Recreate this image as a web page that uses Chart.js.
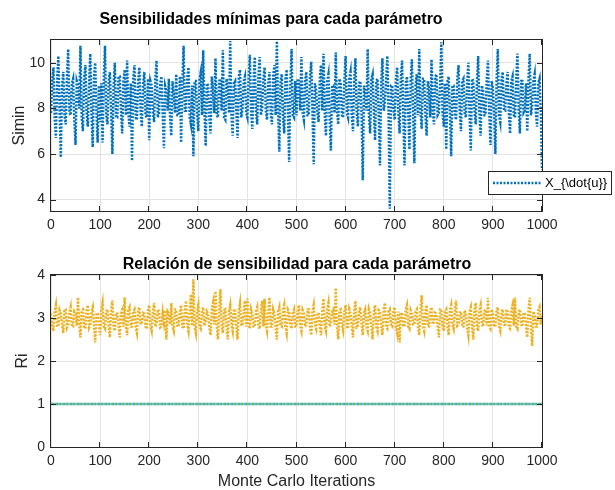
<!DOCTYPE html>
<html>
<head>
<meta charset="utf-8">
<script src="https://cdn.jsdelivr.net/npm/chart.js@4.4.1/dist/chart.umd.min.js"></script>
<style>
  html, body { margin: 0; padding: 0; background: #fff; }
  #wrap { position: relative; width: 615px; height: 490px; }
  .panel { position: absolute; left: 0; width: 615px; height: 245px; }
</style>
</head>
<body>
<div id="wrap">
  <div class="panel" style="top:0"><canvas id="topChart" width="615" height="245"></canvas></div>
  <div class="panel" style="top:245px"><canvas id="bottomChart" width="615" height="245"></canvas></div>
</div>
<script>
// ---- data (one value every 2.5 Monte Carlo iterations) ----
const iterStep = 2.5;

const simin = [
  7.8, 9.2, 9.8, 7.6, 6.7, 9.3, 10.3, 7.9, 5.85, 9.0, 9.6, 7.7, 7.3, 9.4, 10.6, 7.8, 7.7, 9.1, 9.3, 7.5,
  6.4, 9.2, 9.0, 8.0, 10.75, 7.6, 7.0, 9.3, 9.9, 7.8, 7.2, 9.1, 10.4, 7.7, 6.3, 9.4, 10.0, 7.9, 6.5, 9.0,
  7.4, 9.1, 6.5, 9.3, 10.75, 7.7, 7.3, 9.2, 9.6, 7.8, 6.0, 9.0, 10.0, 7.6, 7.6, 9.4, 9.4, 7.9, 6.9, 9.2,
  9.7, 7.7, 10.1, 7.8, 7.2, 9.1, 5.7, 9.3, 9.9, 7.6, 7.5, 9.2, 9.8, 7.9, 7.2, 9.0, 9.6, 7.7, 7.6, 9.3,
  6.6, 9.2, 9.0, 7.8, 7.4, 9.3, 10.1, 7.6, 7.8, 9.1, 9.4, 7.7, 6.25, 9.0, 8.8, 7.9, 9.3, 7.6, 6.8, 9.2,
  8.6, 7.8, 9.5, 7.7, 7.7, 9.4, 6.5, 9.1, 10.75, 7.9, 7.9, 9.3, 9.8, 7.6, 7.3, 9.0, 5.9, 9.2, 9.2, 7.8,
  7.0, 9.3, 9.6, 7.7, 10.55, 7.9, 6.35, 9.1, 9.0, 7.6, 6.9, 9.4, 8.8, 7.8, 10.2, 7.7, 7.6, 9.2, 9.3, 7.9,
  10.55, 7.6, 7.5, 9.3, 9.0, 7.8, 10.95, 7.7, 6.8, 9.1, 9.2, 7.9, 6.7, 9.4, 9.7, 7.6, 8.0, 9.2, 9.4, 7.8,
  7.6, 9.3, 10.35, 7.9, 7.1, 9.2, 10.25, 7.8, 7.3, 9.4, 10.25, 7.7, 8.0, 9.3, 9.8, 7.9, 7.5, 9.1, 9.6, 7.8,
  7.3, 9.4, 9.9, 7.7, 10.95, 7.9, 6.1, 9.2, 9.5, 7.6, 6.9, 9.3, 9.7, 7.8, 5.65, 9.1, 10.6, 7.7, 7.6, 9.2,
  7.7, 9.3, 9.2, 7.9, 10.25, 7.8, 7.5, 9.2, 9.6, 7.7, 7.7, 9.4, 10.05, 7.9, 5.55, 9.1, 8.8, 7.8, 7.4, 9.3,
  9.9, 7.9, 10.4, 7.7, 6.8, 9.2, 9.5, 7.6, 6.15, 9.0, 9.0, 7.8, 10.45, 7.9, 7.3, 9.3, 9.1, 7.7, 7.6, 9.2,
  10.3, 7.8, 7.6, 9.3, 9.6, 7.7, 7.0, 9.2, 10.2, 7.9, 7.2, 9.1, 9.2, 7.8, 4.85, 9.0, 8.6, 7.9, 10.6, 7.7,
  6.9, 9.3, 9.5, 7.8, 6.6, 9.2, 9.3, 7.6, 5.5, 9.1, 10.2, 7.9, 8.2, 9.2, 10.3, 7.8, 3.6, 9.0, 9.0, 7.9,
  7.5, 9.2, 9.8, 7.8, 6.9, 9.3, 10.1, 7.7, 5.5, 9.1, 9.4, 7.9, 6.2, 9.2, 10.15, 7.8, 5.6, 9.0, 9.5, 7.7,
  10.6, 7.9, 7.1, 9.3, 9.3, 7.8, 6.8, 9.2, 8.9, 7.6, 10.15, 7.9, 7.3, 9.4, 9.5, 7.7, 7.8, 9.1, 10.9, 7.8,
  7.2, 9.1, 6.2, 9.2, 9.4, 7.8, 5.9, 9.0, 9.0, 7.7, 7.5, 9.3, 9.9, 7.9, 7.0, 9.2, 9.3, 7.8, 7.6, 9.1,
  10.0, 7.7, 6.15, 9.3, 9.2, 7.9, 7.3, 9.2, 10.3, 7.8, 6.8, 9.0, 8.8, 7.7, 7.7, 9.3, 10.1, 7.9, 6.4, 9.2,
  8.9, 7.8, 6.0, 9.2, 10.6, 7.7, 7.4, 9.3, 9.6, 7.9, 7.9, 9.1, 9.6, 7.8, 6.9, 9.2, 9.4, 7.7, 7.6, 9.3,
  10.4, 7.9, 6.9, 9.2, 9.2, 7.8, 7.9, 9.1, 7.0, 9.3, 10.4, 7.7, 8.1, 9.2, 9.5, 7.8, 7.2, 9.1, 9.3, 7.9,
  5.3
];

const riMain = [
  3.1, 2.8, 2.7, 3.15, 3.3, 2.82, 2.8, 3.18, 3.1, 2.85, 2.65, 3.2, 3.2, 2.78, 2.85, 3.12, 3.25, 2.8, 2.8, 3.15,
  3.1, 2.82, 3.48, 2.85, 2.55, 3.18, 3.2, 2.8, 2.75, 3.2, 3.3, 2.78, 2.85, 3.15, 3.25, 2.82, 2.43, 3.12, 3.1, 2.85,
  2.6, 3.18, 3.35, 2.8, 2.75, 3.15, 3.2, 2.82, 2.55, 3.2, 3.4, 2.78, 2.7, 3.12, 3.1, 2.85, 2.55, 3.15, 3.2, 2.8,
  3.48, 2.82, 2.6, 3.18, 3.25, 2.8, 2.8, 3.15, 3.2, 2.78, 2.65, 3.2, 3.25, 2.85, 2.9, 3.12, 3.1, 2.8, 2.75, 3.18,
  3.3, 2.82, 2.7, 3.15, 3.35, 2.8, 2.85, 3.2, 3.15, 2.78, 2.8, 3.12, 2.9, 3.18, 2.5, 3.15, 3.1, 2.85, 3.35, 2.8,
  2.7, 3.2, 3.2, 2.82, 2.8, 3.15, 3.3, 2.8, 2.75, 3.18, 3.4, 2.85, 2.7, 3.2, 3.55, 2.82, 3.9, 2.8, 2.65, 3.15,
  3.3, 2.8, 2.75, 3.18, 3.25, 2.82, 2.9, 3.15, 3.1, 2.78, 2.6, 3.2, 3.35, 2.85, 3.62, 2.8, 2.5, 3.12, 3.67, 2.82,
  2.65, 3.18, 3.2, 2.8, 2.5, 3.15, 3.3, 2.85, 2.7, 3.2, 3.2, 2.78, 2.5, 3.18, 3.35, 2.82, 2.85, 3.15, 3.4, 2.8,
  3.45, 2.85, 2.75, 3.2, 3.1, 2.8, 2.8, 3.15, 3.25, 2.82, 2.75, 3.18, 3.4, 2.8, 3.45, 2.85, 2.7, 3.12, 3.48, 2.8,
  2.8, 3.2, 3.1, 2.78, 2.5, 3.15, 3.25, 2.82, 2.8, 3.18, 3.3, 2.8, 2.65, 3.2, 3.15, 2.85, 2.75, 3.12, 3.2, 2.8,
  2.8, 3.15, 3.3, 2.82, 2.7, 3.18, 3.1, 2.8, 2.85, 3.2, 3.2, 2.78, 2.6, 3.15, 3.3, 2.85, 2.75, 3.12, 3.1, 2.8,
  2.6, 3.18, 3.45, 2.82, 2.7, 3.2, 3.35, 2.8, 2.85, 3.15, 3.2, 2.85, 3.7, 2.8, 2.5, 3.18, 3.2, 2.82, 2.7, 3.15,
  3.3, 2.8, 2.75, 3.2, 3.1, 2.82, 2.55, 3.15, 3.4, 2.78, 2.8, 3.18, 3.25, 2.85, 2.6, 3.12, 3.2, 2.8, 2.7, 3.2,
  3.1, 2.82, 2.5, 3.15, 3.3, 2.8, 2.7, 3.18, 3.15, 2.85, 2.6, 3.2, 3.35, 2.78, 2.75, 3.15, 3.2, 2.82, 2.8, 3.18,
  3.25, 2.8, 2.65, 3.15, 2.43, 3.12, 3.1, 2.82, 2.8, 3.2, 3.3, 2.8, 2.75, 3.18, 3.1, 2.85, 2.85, 3.15, 3.2, 2.78,
  2.6, 3.2, 3.53, 2.82, 2.7, 3.15, 3.3, 2.8, 2.8, 3.18, 3.25, 2.85, 2.9, 3.12, 3.1, 2.8, 2.55, 3.2, 3.2, 2.82,
  2.7, 3.15, 3.2, 2.8, 2.6, 3.18, 3.3, 2.85, 2.75, 3.2, 3.4, 2.82, 2.85, 3.12, 3.15, 2.8, 2.8, 3.18, 3.1, 2.78,
  2.6, 3.15, 3.25, 2.82, 2.5, 3.2, 3.35, 2.8, 2.7, 3.18, 3.3, 2.85, 2.8, 3.15, 3.2, 2.82, 3.47, 2.8, 2.75, 3.2,
  3.1, 2.82, 2.8, 3.18, 3.25, 2.8, 2.7, 3.15, 3.2, 2.85, 2.8, 3.2, 3.15, 2.78, 2.75, 3.18, 3.3, 2.82, 3.47, 2.8,
  2.75, 3.15, 3.2, 2.85, 2.8, 3.12, 3.1, 2.8, 2.55, 3.2, 3.47, 2.82, 2.35, 3.15, 3.05, 2.8, 2.8, 3.18, 3.25, 2.85,
  3.1
];

// the two parameters whose ratio stays at 1
const riFlatX = [0, 1000];
const riFlatGreen = [1, 1];
const riFlatCyan = [1, 1];

const xTicks = [0, 100, 200, 300, 400, 500, 600, 700, 800, 900, 1000];
const yTicksTop = [4, 6, 8, 10];
const yTicksBottom = [0, 1, 2, 3, 4];

// ---- helpers ----
const fontFam = '"Liberation Sans", Arial, Helvetica, sans-serif';
const ink = '#262626';
Chart.defaults.font.family = fontFam;
Chart.defaults.color = ink;

const toPoints = arr => arr.map((v, i) => ({ x: i * iterStep, y: v }));
const pairPoints = (xs, ys) => xs.map((x, i) => ({ x, y: ys[i] }));

// MATLAB-ish box, inward ticks, titles, labels, legend
const matlabAxes = {
  id: 'matlabAxes',
  afterDraw(chart, args, o) {
    const { ctx, chartArea: a } = chart;
    const sx = chart.scales.x, sy = chart.scales.y;
    ctx.save();
    ctx.strokeStyle = ink;
    ctx.lineWidth = 1;
    ctx.beginPath();
    sx.ticks.forEach(t => {
      const px = Math.round(sx.getPixelForValue(t.value)) - 0.5;
      ctx.moveTo(px, a.bottom); ctx.lineTo(px, a.bottom - 5);
      ctx.moveTo(px, a.top); ctx.lineTo(px, a.top + 5);
    });
    sy.ticks.forEach(t => {
      const py = Math.round(sy.getPixelForValue(t.value)) + 0.5;
      ctx.moveTo(a.left, py); ctx.lineTo(a.left + 5, py);
      ctx.moveTo(a.right, py); ctx.lineTo(a.right - 5, py);
    });
    ctx.stroke();
    ctx.strokeRect(a.left - 0.5, a.top - 0.5, a.right - a.left + 1, a.bottom - a.top + 1);

    ctx.textAlign = 'center';
    ctx.textBaseline = 'middle';
    ctx.fillStyle = '#000';
    ctx.font = 'bold 16px ' + fontFam;
    ctx.fillText(o.title, o.titleX, o.titleY);

    ctx.fillStyle = ink;
    ctx.font = '16px ' + fontFam;
    if (o.xlabel) ctx.fillText(o.xlabel, (a.left + a.right) / 2, o.xlabelY);
    ctx.save();
    ctx.translate(o.ylabelX, (a.top + a.bottom) / 2);
    ctx.rotate(-Math.PI / 2);
    ctx.fillText(o.ylabel, 0, 0);
    ctx.restore();

    if (o.legend) {
      const L = o.legend;
      ctx.fillStyle = '#fff';
      ctx.fillRect(L.x, L.y, L.w, L.h);
      ctx.strokeStyle = ink;
      ctx.strokeRect(L.x + 0.5, L.y + 0.5, L.w, L.h);
      ctx.strokeStyle = L.color;
      ctx.lineWidth = 2.5;
      ctx.setLineDash([2, 1.5]);
      ctx.beginPath();
      ctx.moveTo(L.x + 5, L.y + L.h / 2 + 0.5);
      ctx.lineTo(L.x + 54, L.y + L.h / 2 + 0.5);
      ctx.stroke();
      ctx.setLineDash([]);
      ctx.fillStyle = '#000';
      ctx.font = '13px ' + fontFam;
      ctx.textAlign = 'left';
      ctx.fillText(L.text, L.x + 57, L.y + L.h / 2 + 1);
    }
    ctx.restore();
  }
};

function axisOpts(min, max, ticksArr, fitW, fitH) {
  return {
    x: {
      type: 'linear', min: 0, max: 1000,
      afterBuildTicks: s => { s.ticks = xTicks.map(v => ({ value: v })); },
      afterFit: s => { s.height = fitH; },
      grid: { color: '#e3e3e3', drawTicks: false },
      border: { display: false },
      ticks: { font: { size: 14 }, color: ink, padding: 6, maxRotation: 0, autoSkip: false,
               callback: v => String(v) }
    },
    y: {
      type: 'linear', min, max,
      afterBuildTicks: s => { s.ticks = ticksArr.map(v => ({ value: v })); },
      afterFit: s => { s.width = fitW; },
      grid: { color: '#e3e3e3', drawTicks: false },
      border: { display: false },
      ticks: { font: { size: 14 }, color: ink, padding: 6, callback: v => String(v) }
    }
  };
}

const lineStyle = { pointRadius: 0, borderWidth: 2.5, borderDash: [2, 1.5], tension: 0, fill: false };

// ---- top: Simin ----
new Chart(document.getElementById('topChart'), {
  type: 'line',
  data: {
    datasets: [
      { ...lineStyle, data: toPoints(simin), borderColor: '#0072BD' }
    ]
  },
  options: {
    responsive: false, animation: false, devicePixelRatio: 1,
    layout: { padding: { top: 40, right: 73, left: 0, bottom: 0 } },
    scales: axisOpts(3.5, 11, yTicksTop, 51, 34),
    plugins: {
      legend: { display: false }, tooltip: { enabled: false },
      matlabAxes: {
        title: 'Sensibilidades mínimas para cada parámetro', titleX: 271, titleY: 20,
        ylabel: 'Simin', ylabelX: 20,
        legend: { x: 488, y: 171, w: 123, h: 23, color: '#0072BD', text: 'X_{\\dot{u}}' }
      }
    }
  },
  plugins: [matlabAxes]
});

// ---- bottom: Ri ----
new Chart(document.getElementById('bottomChart'), {
  type: 'line',
  data: {
    datasets: [
      { ...lineStyle, data: pairPoints(riFlatX, riFlatCyan), borderColor: '#4DBEEE', order: 0 },
      { ...lineStyle, data: pairPoints(riFlatX, riFlatGreen), borderColor: '#77AC30', borderDashOffset: 2, order: 1 },
      { ...lineStyle, data: toPoints(riMain), borderColor: '#EDB120', order: 2 }
    ]
  },
  options: {
    responsive: false, animation: false, devicePixelRatio: 1,
    layout: { padding: { top: 30, right: 73, left: 0, bottom: 0 } },
    scales: axisOpts(0, 4, yTicksBottom, 51, 43),
    plugins: {
      legend: { display: false }, tooltip: { enabled: false },
      matlabAxes: {
        title: 'Relación de sensibilidad para cada parámetro', titleX: 297, titleY: 20,
        ylabel: 'Ri', ylabelX: 23, xlabel: 'Monte Carlo Iterations', xlabelY: 237
      }
    }
  },
  plugins: [matlabAxes]
});
</script>
</body>
</html>
